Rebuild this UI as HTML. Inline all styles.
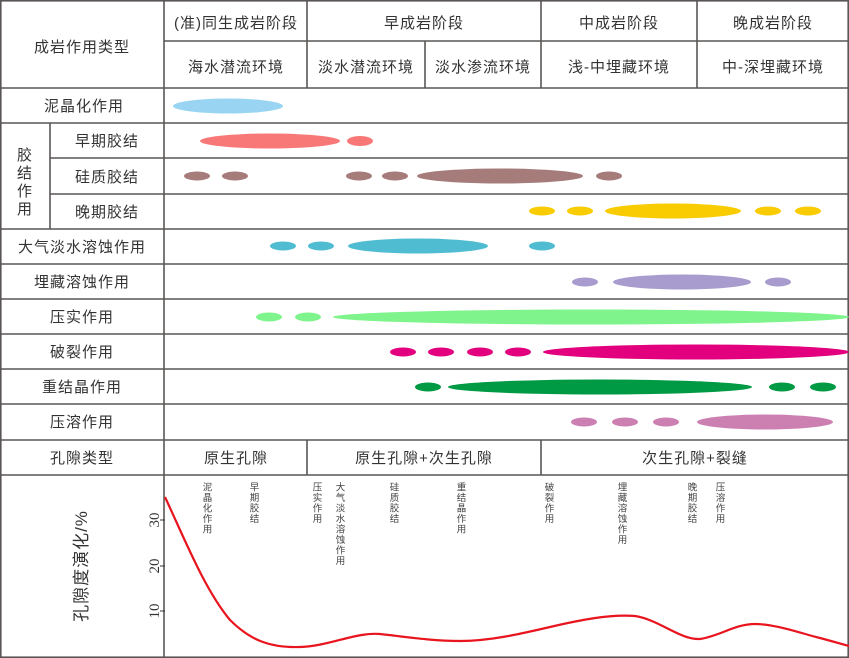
<!DOCTYPE html>
<html><head><meta charset="utf-8"><style>
html,body{margin:0;padding:0;background:#fff;}
svg{display:block;font-family:"Liberation Sans","Noto Sans CJK SC",sans-serif;}
</style></head><body>
<svg width="849" height="658" viewBox="0 0 849 658" xmlns="http://www.w3.org/2000/svg">
<rect x="0" y="0" width="849" height="658" fill="#fff"/>
<g stroke="#5a5656" stroke-width="1.6" fill="none">
<rect x="0.8" y="0.8" width="847.4" height="656.4"/>
<line x1="164" y1="0" x2="164" y2="658"/>
<line x1="164" y1="41" x2="849" y2="41"/>
<line x1="307" y1="0" x2="307" y2="88"/>
<line x1="541" y1="0" x2="541" y2="88"/>
<line x1="697" y1="0" x2="697" y2="88"/>
<line x1="425" y1="41" x2="425" y2="88"/>
<line x1="0" y1="88" x2="849" y2="88"/>
<line x1="0" y1="123" x2="849" y2="123"/>
<line x1="50" y1="158" x2="849" y2="158"/>
<line x1="50" y1="194" x2="849" y2="194"/>
<line x1="0" y1="229" x2="849" y2="229"/>
<line x1="0" y1="264" x2="849" y2="264"/>
<line x1="0" y1="299" x2="849" y2="299"/>
<line x1="0" y1="334" x2="849" y2="334"/>
<line x1="0" y1="369" x2="849" y2="369"/>
<line x1="0" y1="404" x2="849" y2="404"/>
<line x1="0" y1="440" x2="849" y2="440"/>
<line x1="0" y1="475" x2="849" y2="475"/>
<line x1="50" y1="123" x2="50" y2="229"/>
<line x1="307" y1="440" x2="307" y2="475"/>
<line x1="541" y1="440" x2="541" y2="475"/>
</g>
<g font-size="15" fill="#333" text-anchor="middle" letter-spacing="1">
<text x="82" y="52">成岩作用类型</text>
<text x="236" y="28">(准)同生成岩阶段</text>
<text x="424" y="28">早成岩阶段</text>
<text x="619" y="28">中成岩阶段</text>
<text x="773" y="28">晚成岩阶段</text>
<text x="236" y="72">海水潜流环境</text>
<text x="366" y="72">淡水潜流环境</text>
<text x="483" y="72">淡水渗流环境</text>
<text x="619" y="72">浅-中埋藏环境</text>
<text x="773" y="72">中-深埋藏环境</text>
<text x="84" y="111">泥晶化作用</text>
<text x="107" y="146">早期胶结</text>
<text x="107" y="182">硅质胶结</text>
<text x="107" y="217">晚期胶结</text>
<text x="25" y="160">胶</text>
<text x="25" y="178">结</text>
<text x="25" y="196">作</text>
<text x="25" y="214">用</text>
<text x="82" y="252">大气淡水溶蚀作用</text>
<text x="82" y="287">埋藏溶蚀作用</text>
<text x="82" y="322">压实作用</text>
<text x="82" y="357">破裂作用</text>
<text x="82" y="392">重结晶作用</text>
<text x="82" y="427">压溶作用</text>
<text x="82" y="463">孔隙类型</text>
<text x="236" y="463">原生孔隙</text>
<text x="424" y="463">原生孔隙+次生孔隙</text>
<text x="695" y="463">次生孔隙+裂缝</text>
</g>
<ellipse cx="228" cy="106" rx="55" ry="7.5" fill="#99d5f3"/>
<g fill="#f87878"><ellipse cx="270" cy="141" rx="70" ry="7.5"/><ellipse cx="360" cy="141" rx="13" ry="5"/></g>
<g fill="#a67c7a"><ellipse cx="197" cy="176" rx="13" ry="4.5"/><ellipse cx="235" cy="176" rx="13" ry="4.5"/><ellipse cx="359" cy="176" rx="13" ry="4.5"/><ellipse cx="395" cy="176" rx="13" ry="4.5"/><ellipse cx="500" cy="176" rx="83" ry="7.5"/><ellipse cx="609" cy="176" rx="13" ry="4.5"/></g>
<g fill="#f8cc00"><ellipse cx="542" cy="211" rx="13" ry="4.5"/><ellipse cx="580" cy="211" rx="13" ry="4.5"/><ellipse cx="673" cy="211" rx="68" ry="7.5"/><ellipse cx="768" cy="211" rx="13" ry="4.5"/><ellipse cx="808" cy="211" rx="13" ry="4.5"/></g>
<g fill="#4fbcd2"><ellipse cx="283" cy="246" rx="13" ry="4.5"/><ellipse cx="321" cy="246" rx="13" ry="4.5"/><ellipse cx="418" cy="246" rx="70" ry="7.5"/><ellipse cx="542" cy="246" rx="13" ry="4.5"/></g>
<g fill="#a89bcd"><ellipse cx="585" cy="282" rx="13" ry="4.5"/><ellipse cx="682" cy="282" rx="69" ry="7.5"/><ellipse cx="778" cy="282" rx="13" ry="4.5"/></g>
<g fill="#80f48c"><ellipse cx="269" cy="317" rx="13" ry="4.5"/><ellipse cx="308" cy="317" rx="13" ry="4.5"/><ellipse cx="591" cy="317" rx="258" ry="7.5"/></g>
<g fill="#e2007e"><ellipse cx="403" cy="352" rx="13" ry="4.5"/><ellipse cx="441" cy="352" rx="13" ry="4.5"/><ellipse cx="480" cy="352" rx="13" ry="4.5"/><ellipse cx="518" cy="352" rx="13" ry="4.5"/><ellipse cx="696" cy="352" rx="153" ry="7.5"/></g>
<g fill="#009944"><ellipse cx="428" cy="387" rx="13" ry="4.5"/><ellipse cx="600" cy="387" rx="152" ry="7.5"/><ellipse cx="782" cy="387" rx="13" ry="4.5"/><ellipse cx="823" cy="387" rx="13" ry="4.5"/></g>
<g fill="#cc80b2"><ellipse cx="584" cy="422" rx="13" ry="4.5"/><ellipse cx="625" cy="422" rx="13" ry="4.5"/><ellipse cx="666" cy="422" rx="13" ry="4.5"/><ellipse cx="765" cy="422" rx="68" ry="7.5"/></g>
<text transform="translate(87,566) rotate(-90)" font-size="17" fill="#333" text-anchor="middle" letter-spacing="1">孔隙度演化/%</text>
<g font-family="Liberation Serif,serif" font-size="15" fill="#333" text-anchor="middle">
<text transform="translate(159,520) rotate(-90)">30</text>
<text transform="translate(159,566) rotate(-90)">20</text>
<text transform="translate(159,611) rotate(-90)">10</text>
</g>
<g stroke="#333" stroke-width="1"><line x1="160" y1="520" x2="165" y2="520"/><line x1="160" y1="566" x2="165" y2="566"/><line x1="160" y1="611" x2="165" y2="611"/></g>
<g font-size="9.5" fill="#444" style="writing-mode:vertical-rl" letter-spacing="1">
<text x="206" y="482">泥晶化作用</text>
<text x="253" y="482">早期胶结</text>
<text x="316" y="482">压实作用</text>
<text x="339" y="482">大气淡水溶蚀作用</text>
<text x="393" y="482">硅质胶结</text>
<text x="460" y="482">重结晶作用</text>
<text x="548" y="482">破裂作用</text>
<text x="621" y="482">埋藏溶蚀作用</text>
<text x="691" y="482">晚期胶结</text>
<text x="719" y="482">压溶作用</text>
</g>
<path d="M165,497 C185,540 205,590 230,620 C250,640 270,648 300,647 C330,646 355,632 380,634 C400,636 430,641 460,641 C490,641 520,634 550,627 C580,620 610,614 635,616 C660,620 680,640 700,639 C720,636 735,624 755,624 C775,624 800,633 820,638 C835,642 845,645 849,646" fill="none" stroke="#e8141e" stroke-width="2.2"/>
</svg>
</body></html>
